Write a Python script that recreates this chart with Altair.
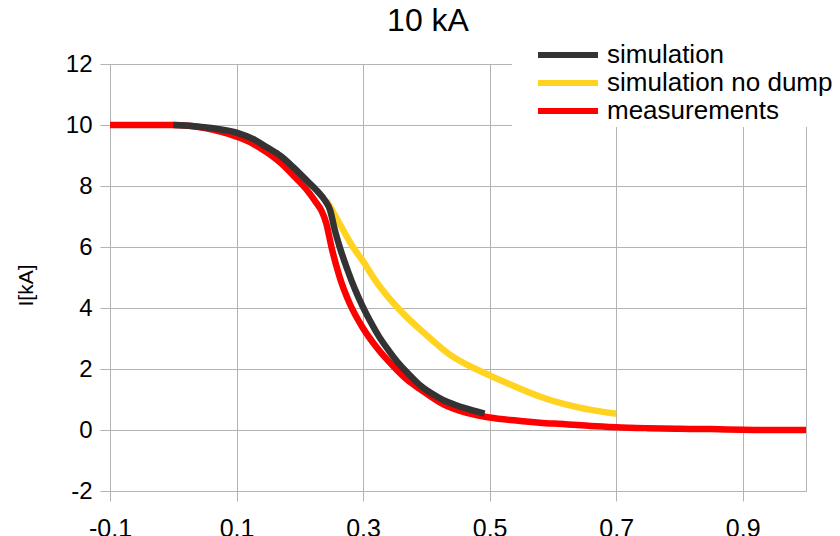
import altair as alt
import pandas as pd

# ---- data ----
sim_x = [0.00, 0.03, 0.06, 0.10, 0.13, 0.148, 0.17, 0.19, 0.21, 0.227, 0.240,
         0.248, 0.255, 0.263, 0.275, 0.287, 0.300, 0.312, 0.325, 0.340, 0.358,
         0.375, 0.39, 0.41, 0.427, 0.445, 0.464, 0.478, 0.492]
sim_y = [10.0, 9.97, 9.90, 9.75, 9.50, 9.27, 8.98, 8.61, 8.20, 7.85, 7.52,
         7.20, 6.58, 6.00, 5.27, 4.62, 4.02, 3.54, 3.07, 2.62, 2.14,
         1.77, 1.47, 1.18, 0.98, 0.83, 0.70, 0.62, 0.54]

nodump_x = [0.242, 0.245, 0.263, 0.284, 0.299, 0.321, 0.348, 0.369, 0.39,
            0.437, 0.50, 0.542, 0.579, 0.62, 0.66, 0.70]
nodump_y = [7.52, 7.42, 6.76, 6.00, 5.56, 4.86, 4.16, 3.70, 3.30,
            2.47, 1.79, 1.41, 1.10, 0.84, 0.66, 0.53]

meas_x = [-0.10, -0.05, 0.00, 0.05, 0.10, 0.125, 0.148, 0.17, 0.19, 0.21,
          0.227, 0.234, 0.242, 0.25, 0.263, 0.279, 0.299, 0.321, 0.353, 0.369,
          0.39, 0.427, 0.464, 0.50, 0.542, 0.579, 0.62, 0.66, 0.70, 0.75,
          0.80, 0.85, 0.90, 0.95, 1.00]
meas_y = [10.0, 10.0, 10.0, 9.90, 9.62, 9.40, 9.10, 8.75, 8.34, 7.90,
          7.42, 7.20, 6.76, 6.00, 5.01, 4.14, 3.37, 2.72, 1.98, 1.66,
          1.34, 0.84, 0.56, 0.41, 0.31, 0.24, 0.19, 0.13, 0.09, 0.06,
          0.04, 0.03, 0.01, 0.00, 0.00]

series_names = ["simulation", "simulation no dump", "measurements"]
series_colors = ["#333333", "#ffd320", "#ff0000"]
x_ticks = [-0.1, 0.1, 0.3, 0.5, 0.7, 0.9]
y_ticks = [-2, 0, 2, 4, 6, 8, 10, 12]

rows = []
for name, xs, ys in [("simulation", sim_x, sim_y),
                     ("simulation no dump", nodump_x, nodump_y),
                     ("measurements", meas_x, meas_y)]:
    for i, (a, b) in enumerate(zip(xs, ys)):
        rows.append({"series": name, "t": a, "I": b, "i": i})
df = pd.DataFrame(rows)

FONT = "Liberation Sans"

color = alt.Color(
    "series:N",
    scale=alt.Scale(domain=series_names, range=series_colors),
    legend=alt.Legend(
        title=None, orient="none", legendX=402, legendY=-24,
        symbolType="M-3,0H3", symbolSize=400, symbolStrokeWidth=6,
        symbolOffset=41, labelOffset=26, labelFont=FONT, labelFontSize=26,
        labelColor="black", labelLimit=400, fillColor="white", padding=2,
        rowPadding=2, strokeColor="white",
    ),
)

x = alt.X(
    "t:Q",
    scale=alt.Scale(domain=[-0.1, 1.0], nice=False, zero=False),
    axis=alt.Axis(
        values=x_ticks, title=None, labelFlush=False, labelOverlap=False,
        labelExpr="datum.value < 0 ? '-' + format(-datum.value, '.1f') : format(datum.value, '.1f')",
        labelPadding=15, labelFontSize=25,
    ),
)
y = alt.Y(
    "I:Q",
    scale=alt.Scale(domain=[-2, 12], nice=False, zero=False),
    axis=alt.Axis(
        values=y_ticks, title="I[kA]", labelFlush=False, labelOverlap=False,
        labelExpr="datum.value < 0 ? '-' + format(-datum.value, 'd') : format(datum.value, 'd')",
        labelPadding=8, titleX=-78, titleY=221, titleAngle=270,
        titleAlign="center", titleBaseline="alphabetic",
        titleFont=FONT, titleFontSize=21, titleFontWeight="normal",
        titleColor="black",
    ),
)

base = alt.Chart(df).mark_line(strokeWidth=6.5, interpolate="monotone").encode(
    x=x, y=y, color=color, order="i:Q"
)

layers = [base.transform_filter(alt.datum.series == s)
          for s in ["measurements", "simulation no dump", "simulation"]]

chart = alt.layer(*layers).properties(
    width=696, height=427,
    autosize="none",
    padding={"left": 102, "top": 56, "right": 26, "bottom": 60},
    title=alt.TitleParams(
        "10 kA", font=FONT, fontSize=32, fontWeight="normal", color="black",
        anchor="middle", frame="group", dx=-30, offset=0, dy=-2,
    ),
).configure_axis(
    labelFont=FONT, labelFontSize=24, labelColor="black",
    gridColor="#b3b3b3", domainColor="#b3b3b3", tickColor="#b3b3b3",
    tickSize=10, gridWidth=1, domainWidth=1,
).configure_view(stroke="#b3b3b3", strokeWidth=1)

chart.save("out.html", embed_options={"renderer": "svg", "actions": False})
